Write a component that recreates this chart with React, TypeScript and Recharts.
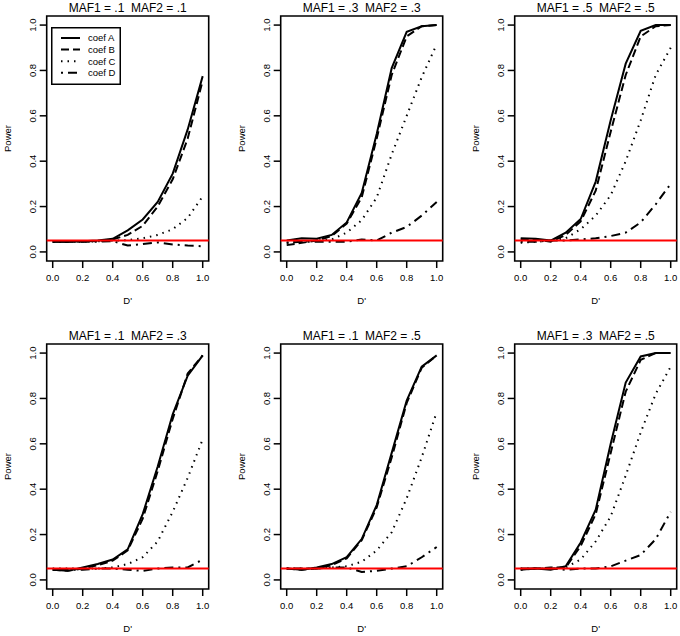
import { LineChart, Line, XAxis, YAxis, ReferenceLine, ReferenceArea, Legend } from 'recharts'

// D' values on the x axis
const dPrime = [0, 0.1, 0.2, 0.3, 0.4, 0.5, 0.6, 0.7, 0.8, 0.9, 1.0]
const xTicks = [0, 0.2, 0.4, 0.6, 0.8, 1.0]
const yTicks = [0, 0.2, 0.4, 0.6, 0.8, 1.0]
const alpha = 0.05

const seriesNames = ['coef A', 'coef B', 'coef C', 'coef D']

// MAF1 = .1  MAF2 = .1
const p1A = [0.045, 0.045, 0.047, 0.05, 0.058, 0.095, 0.143, 0.22, 0.345, 0.54, 0.775]
const p1B = [0.045, 0.045, 0.046, 0.048, 0.055, 0.075, 0.115, 0.2, 0.32, 0.5, 0.755]
const p1C = [0.045, 0.045, 0.045, 0.047, 0.05, 0.052, 0.06, 0.075, 0.1, 0.15, 0.245]
const p1D = [0.045, 0.045, 0.045, 0.045, 0.048, 0.028, 0.035, 0.042, 0.033, 0.028, 0.025]

// MAF1 = .3  MAF2 = .3
const p2A = [0.05, 0.06, 0.058, 0.075, 0.13, 0.26, 0.52, 0.81, 0.97, 0.995, 1.0]
const p2B = [0.03, 0.04, 0.05, 0.07, 0.125, 0.24, 0.5, 0.78, 0.95, 0.995, 1.0]
const p2C = [0.04, 0.045, 0.05, 0.055, 0.085, 0.14, 0.24, 0.43, 0.6, 0.77, 0.915]
const p2D = [0.04, 0.045, 0.045, 0.045, 0.045, 0.055, 0.05, 0.085, 0.11, 0.16, 0.22]

// MAF1 = .5  MAF2 = .5
const p3A = [0.06, 0.058, 0.05, 0.085, 0.145, 0.31, 0.58, 0.83, 0.975, 1.0, 1.0]
const p3B = [0.055, 0.055, 0.045, 0.075, 0.135, 0.27, 0.53, 0.78, 0.95, 0.995, 1.0]
const p3C = [0.04, 0.045, 0.05, 0.06, 0.1, 0.16, 0.25, 0.4, 0.58, 0.78, 0.9]
const p3D = [0.045, 0.045, 0.05, 0.05, 0.055, 0.06, 0.07, 0.085, 0.13, 0.21, 0.3]

// MAF1 = .1  MAF2 = .3
const p4A = [0.045, 0.04, 0.055, 0.07, 0.09, 0.135, 0.29, 0.5, 0.73, 0.9, 0.99]
const p4B = [0.045, 0.04, 0.05, 0.065, 0.085, 0.13, 0.27, 0.48, 0.71, 0.91, 0.99]
const p4C = [0.05, 0.05, 0.05, 0.05, 0.055, 0.07, 0.1, 0.17, 0.3, 0.45, 0.62]
const p4D = [0.045, 0.045, 0.045, 0.05, 0.05, 0.045, 0.04, 0.05, 0.055, 0.055, 0.09]

// MAF1 = .1  MAF2 = .5
const p5A = [0.05, 0.045, 0.055, 0.07, 0.1, 0.18, 0.33, 0.56, 0.79, 0.94, 0.99]
const p5B = [0.05, 0.045, 0.05, 0.065, 0.095, 0.175, 0.32, 0.54, 0.78, 0.935, 0.99]
const p5C = [0.05, 0.05, 0.05, 0.055, 0.06, 0.08, 0.13, 0.21, 0.36, 0.54, 0.74]
const p5D = [0.05, 0.05, 0.05, 0.055, 0.055, 0.035, 0.04, 0.05, 0.06, 0.1, 0.145]

// MAF1 = .3  MAF2 = .5
const p6A = [0.05, 0.05, 0.045, 0.06, 0.165, 0.31, 0.6, 0.87, 0.985, 1.0, 1.0]
const p6B = [0.045, 0.05, 0.055, 0.055, 0.15, 0.29, 0.56, 0.83, 0.97, 1.0, 1.0]
const p6C = [0.05, 0.05, 0.05, 0.055, 0.09, 0.17, 0.28, 0.46, 0.65, 0.82, 0.94]
const p6D = [0.045, 0.05, 0.05, 0.045, 0.05, 0.05, 0.06, 0.085, 0.11, 0.18, 0.3]

const panels = [
  { title: 'MAF1 = .1  MAF2 = .1', series: [p1A, p1B, p1C, p1D], legend: true },
  { title: 'MAF1 = .3  MAF2 = .3', series: [p2A, p2B, p2C, p2D] },
  { title: 'MAF1 = .5  MAF2 = .5', series: [p3A, p3B, p3C, p3D] },
  { title: 'MAF1 = .1  MAF2 = .3', series: [p4A, p4B, p4C, p4D] },
  { title: 'MAF1 = .1  MAF2 = .5', series: [p5A, p5B, p5C, p5D] },
  { title: 'MAF1 = .3  MAF2 = .5', series: [p6A, p6B, p6C, p6D] },
]

const dashes = [undefined, '8 4', '1.5 5', '2 5 9 5']
const FONT = '"Liberation Sans", Arial, Helvetica, sans-serif'

const COL_W = 234
const ROW_H = 328
const CHART_W = 212
const CHART_H = 308
const BOX_LEFT = 46.7
const BOX_TOP = 16
const BOX_W = 162

function YTick(props: any) {
  const { x, y, payload } = props
  return (
    <text x={x} y={y} transform={`rotate(-90 ${x} ${y})`} textAnchor="middle" fontSize={9.5} fill="#000" fontFamily={FONT}>
      {Number(payload.value).toFixed(1)}
    </text>
  )
}

function PowerTitle(props: any) {
  const vb = props.viewBox || { x: 0, y: BOX_TOP, height: 245 }
  const x = vb.x + 10.5
  const y = vb.y + vb.height / 2
  return (
    <text x={x} y={y} transform={`rotate(-90 ${x} ${y})`} textAnchor="middle" fontSize={9.5} fill="#000" fontFamily={FONT}>
      Power
    </text>
  )
}

function DTitle(props: any) {
  const vb = props.viewBox || { x: BOX_LEFT, y: 261, width: BOX_W }
  return (
    <text x={vb.x + vb.width / 2} y={vb.y + 43} textAnchor="middle" fontSize={9.5} fill="#000" fontFamily={FONT}>
      D'
    </text>
  )
}

function LegendBox() {
  return (
    <svg width={70} height={58} style={{ display: 'block' }}>
      <rect x={0.75} y={0.75} width={68.5} height={56.5} fill="#fff" stroke="#000" strokeWidth={1.5} />
      {seriesNames.map((name, i) => (
        <g key={name}>
          <line x1={10} x2={29} y1={11 + i * 11.6} y2={11 + i * 11.6} stroke="#000" strokeWidth={2} strokeDasharray={dashes[i]} />
          <text x={37} y={14.3 + i * 11.6} fontSize={9.5} fill="#000" fontFamily={FONT}>
            {name}
          </text>
        </g>
      ))}
    </svg>
  )
}

function Panel({ title, series, legend }: { title: string; series: number[][]; legend?: boolean }) {
  const data = dPrime.map((x, i) => ({ x, a: series[0][i], b: series[1][i], c: series[2][i], d: series[3][i] }))
  const keys = ['a', 'b', 'c', 'd']
  return (
    <div style={{ position: 'relative', width: CHART_W, height: CHART_H }}>
      <div
        style={{
          position: 'absolute',
          left: BOX_LEFT,
          width: BOX_W,
          top: 2,
          textAlign: 'center',
          fontSize: 12,
          lineHeight: '12px',
          whiteSpace: 'pre',
          fontFamily: FONT,
          color: '#000',
        }}
      >
        {title}
      </div>
      <LineChart width={CHART_W} height={CHART_H} data={data} margin={{ top: BOX_TOP, right: CHART_W - BOX_LEFT - BOX_W, left: 0, bottom: 0 }}>
        <XAxis
          type="number"
          dataKey="x"
          domain={[-0.04, 1.04]}
          ticks={xTicks}
          allowDataOverflow
          height={47}
          axisLine={false}
          stroke="#000"
          tickSize={7}
          tickMargin={6}
          tickLine={{ stroke: '#000', strokeWidth: 1.5 }}
          tick={{ fontSize: 9.5, fill: '#000', fontFamily: FONT }}
          tickFormatter={(v: number) => v.toFixed(1)}
          label={<DTitle />}
        />
        <YAxis
          type="number"
          domain={[-0.04, 1.04]}
          ticks={yTicks}
          allowDataOverflow
          width={BOX_LEFT}
          axisLine={false}
          stroke="#000"
          tickSize={7}
          tickMargin={4}
          tickLine={{ stroke: '#000', strokeWidth: 1.5 }}
          tick={<YTick />}
          label={<PowerTitle />}
        />
        {keys.map((k, i) => (
          <Line
            key={k}
            type="linear"
            dataKey={k}
            name={seriesNames[i]}
            stroke="#000"
            strokeWidth={2}
            strokeDasharray={dashes[i]}
            dot={false}
            activeDot={false}
            isAnimationActive={false}
          />
        ))}
        <ReferenceLine y={alpha} stroke="#ff0000" strokeWidth={2} ifOverflow="extendDomain" />
        <ReferenceArea x1={-0.04} x2={1.04} y1={-0.04} y2={1.04} fill="none" stroke="#000" strokeWidth={1.6} ifOverflow="visible" />
        {legend && (
          <Legend
            layout="vertical"
            align="center"
            verticalAlign="middle"
            content={() => <LegendBox />}
            wrapperStyle={{ left: 51, top: 27, width: 70, height: 58 }}
          />
        )}
      </LineChart>
    </div>
  )
}

export default function App() {
  return (
    <div style={{ position: 'absolute', left: 0, top: 0, width: 680, height: 636, background: '#fff', overflow: 'hidden' }}>
      {panels.map((p, i) => (
        <div key={p.title} style={{ position: 'absolute', left: (i % 3) * COL_W, top: Math.floor(i / 3) * ROW_H }}>
          <Panel title={p.title} series={p.series} legend={p.legend} />
        </div>
      ))}
    </div>
  )
}
